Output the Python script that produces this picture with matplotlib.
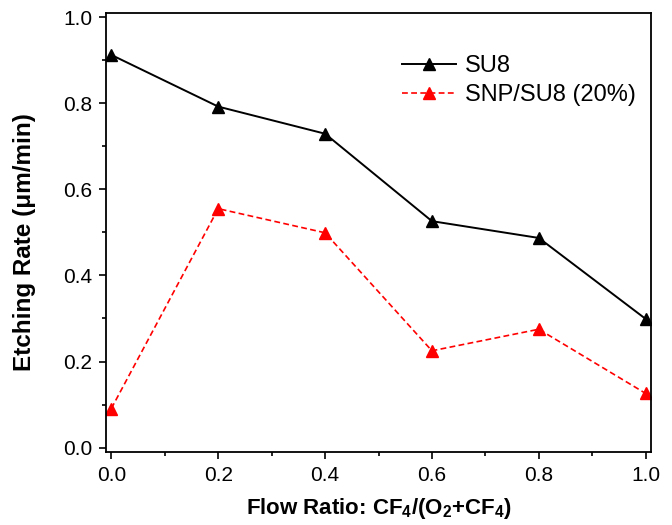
import matplotlib
matplotlib.use("Agg")
import matplotlib.pyplot as plt
from matplotlib.ticker import MultipleLocator

plt.rcParams['font.family'] = ['Liberation Sans', 'DejaVu Sans']
plt.rcParams['mathtext.fontset'] = 'custom'
plt.rcParams['mathtext.rm'] = 'Liberation Sans:bold'
plt.rcParams['mathtext.bf'] = 'Liberation Sans:bold'

# data
ratio = [0.0, 0.2, 0.4, 0.6, 0.8, 1.0]
su8 = [0.912, 0.792, 0.729, 0.526, 0.487, 0.299]
snp_su8 = [0.091, 0.555, 0.499, 0.225, 0.275, 0.126]

fig = plt.figure(figsize=(6.72, 5.25), dpi=100)
ax = fig.add_axes([106/672, 1 - 452/525, (651 - 106)/672, (452 - 12.7)/525])

ax.plot(ratio, su8, '-', color='black', lw=1.4, marker='^', ms=9,
        label='SU8')
ax.plot(ratio, snp_su8, '--', color='red', lw=1.2, marker='^', ms=9,
        label='SNP/SU8 (20%)', dashes=(3.5, 2))

ax.set_xlim(-0.01, 1.01)
ax.set_ylim(-0.01, 1.01)
ax.xaxis.set_major_locator(MultipleLocator(0.2))
ax.xaxis.set_minor_locator(MultipleLocator(0.1))
ax.yaxis.set_major_locator(MultipleLocator(0.2))
ax.yaxis.set_minor_locator(MultipleLocator(0.1))
ax.xaxis.set_major_formatter(plt.FormatStrFormatter('%.1f'))
ax.yaxis.set_major_formatter(plt.FormatStrFormatter('%.1f'))

ax.tick_params(which='both', direction='out', width=1.2, labelsize=15,
               top=False, right=False)
ax.tick_params(which='major', length=5, pad=5)
ax.tick_params(which='minor', length=3)
for s in ax.spines.values():
    s.set_linewidth(1.3)

ax.set_xlabel(r'Flow Ratio: CF$_4$/(O$_2$+CF$_4$)', fontsize=16,
              fontweight='bold')
ax.set_ylabel('Etching Rate (\u03bcm/min)', fontsize=17.5,
              fontweight='bold')
ax.xaxis.set_label_coords(0.5, (452 - 496) / 439.3)
ax.yaxis.set_label_coords((36 - 106) / 545, 0.478)

ax.legend(loc='upper left', bbox_to_anchor=(0.543, 0.903), frameon=False,
          fontsize=17, handlelength=2.3, handletextpad=0.35,
          labelspacing=0.28, borderpad=0, borderaxespad=0, markerscale=0.9)

fig.savefig('out.png', dpi=100)
